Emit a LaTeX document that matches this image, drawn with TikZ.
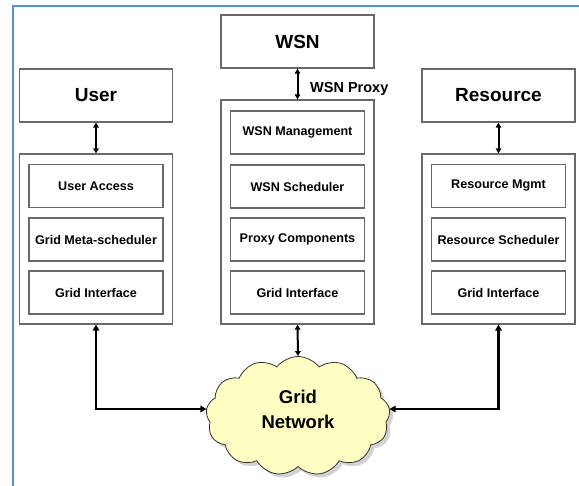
\documentclass[tikz,border=0pt]{standalone}
\usepackage{fontspec}
\setmainfont{Liberation Sans}
\usetikzlibrary{arrows.meta,shapes.symbols,shadows}
\definecolor{frameblue}{RGB}{91,142,213}
\definecolor{boxgray}{RGB}{105,105,105}
\definecolor{cloudyellow}{RGB}{255,255,196}
\begin{document}
\begin{tikzpicture}[x=1pt,y=-1pt,
  bigbox/.style={draw=boxgray,line width=1.2pt,minimum width=153pt,minimum height=53pt,inner sep=0pt,font=\fontsize{19}{22}\selectfont\bfseries},
  outerbox/.style={draw=boxgray,line width=1.2pt,minimum width=153pt,inner sep=0pt},
  inbox/.style={draw=boxgray,line width=1.2pt,minimum width=134pt,minimum height=43pt,inner sep=0pt,font=\fontsize{12.6}{15}\selectfont\bfseries},
  shortarrow/.style={{Triangle[length=5pt,width=5.5pt]}-{Triangle[length=5pt,width=5.5pt]},line width=2pt},
  longarrow/.style={{Triangle[length=6pt,width=6.5pt]}-{Triangle[length=6pt,width=6.5pt]},line width=2.8pt},
  proxylabel/.style={font=\fontsize{14.5}{16}\selectfont\bfseries,anchor=west,inner sep=0pt}
  ]
\useasboundingbox (0,0) rectangle (579,486);
\fill[white] (0,0) rectangle (579,486);
% blue frame (partially visible)
\draw[frameblue,line width=1.8pt] (13,600) -- (13,6) -- (700,6);

% top boxes
\node[bigbox] (wsn) at (297.5,41.5) {WSN};
\node[bigbox] (user) at (96,95.5) {User};
\node[bigbox] (res) at (498.5,95.5) {Resource};

% outer boxes
\node[outerbox,minimum height=170pt] (uo) at (96,239) {};
\node[outerbox,minimum height=224pt] (wo) at (297.5,212) {};
\node[outerbox,minimum height=170pt] (ro) at (498.5,239) {};

% user column
\node[inbox] (ua) at (96,186) {User Access};
\node[inbox] (ums) at (96,239.5) {Grid Meta-scheduler};
\node[inbox] (ugi) at (96,292.5) {Grid Interface};

% WSN column
\node[inbox] (wm) at (297.5,132.5) {WSN Management};
\node[inbox] (ws) at (297.5,186.5) {WSN Scheduler};
\node[inbox] (wp) at (297.5,239.5) {Proxy Components};
\node[inbox] (wgi) at (297.5,292.5) {Grid Interface};

% resource column
\node[inbox] (rm) at (498.5,186) {Resource Mgmt};
\node[inbox] (rs) at (498.5,239.5) {Resource Scheduler};
\node[inbox] (rgi) at (498.5,292.5) {Grid Interface};

% cloud
\node[cloud,cloud puffs=13,cloud puff arc=105,aspect=1.6,
      minimum width=184pt,minimum height=119pt,inner sep=0pt,
      draw=black!80,line width=0.8pt,fill=cloudyellow,
      drop shadow={shadow xshift=3.5pt,shadow yshift=-3.5pt,opacity=0.35},
      font=\fontsize{18.5}{25}\selectfont\bfseries] (net) at (298,416)
      {\raisebox{1pt}[0pt][0pt]{\begin{tabular}{@{}c@{}}Grid\\Network\end{tabular}}};
\coordinate (netL) at ([yshift=7pt]net.west);
\coordinate (netR) at ([yshift=7pt]net.east);

% short arrows
\draw[shortarrow] (user.south) -- (uo.north);
\draw[shortarrow] (wsn.south) -- (wo.north);
\draw[shortarrow] (res.south) -- (ro.north);
\node[proxylabel] (proxy) at (310,88.5) {WSN Proxy};

% long arrows
\draw[longarrow] (uo.south) |- (netL);
\draw[longarrow] (ro.south) |- (netR);
\draw[shortarrow] (wo.south) -- (net.north);
\end{tikzpicture}
\end{document}
